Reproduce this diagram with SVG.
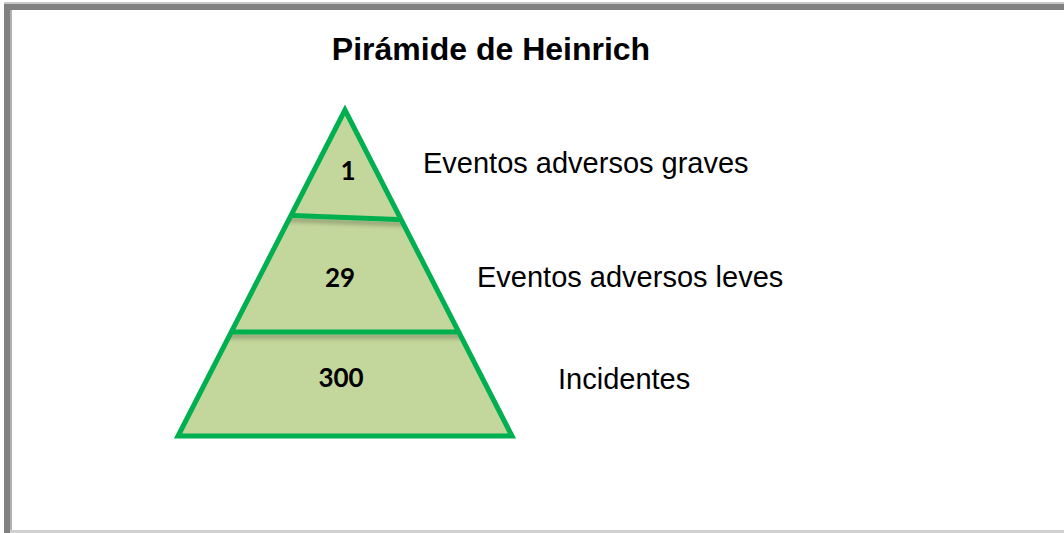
<svg xmlns="http://www.w3.org/2000/svg" width="1064" height="533" viewBox="0 0 1064 533">
  <defs>
    <filter id="sh" filterUnits="userSpaceOnUse" x="150" y="100" width="400" height="350">
      <feGaussianBlur in="SourceAlpha" stdDeviation="2"/>
      <feOffset dx="0" dy="4" result="b"/>
      <feComponentTransfer><feFuncA type="linear" slope="0.25"/></feComponentTransfer>
      <feMerge><feMergeNode/><feMergeNode in="SourceGraphic"/></feMerge>
    </filter>
    <clipPath id="pyr"><polygon points="345,110 178,436 512,436"/></clipPath>
  </defs>
  <style>
    .lbl { font-family: "Liberation Sans", Arial, sans-serif; font-size: 29px; fill: #000; }
    .num { font-family: Lato, "Open Sans", sans-serif; font-weight: bold; font-size: 26px; fill: #000; text-anchor: middle; }
    .div { stroke: #00b050; stroke-width: 5; fill: none; }
  </style>
  <rect x="0" y="0" width="1064" height="533" fill="#ffffff"/>
  <!-- frame -->
  <rect x="4" y="2" width="1060" height="2" fill="#c8c8c8"/>
  <rect x="4" y="4" width="1060" height="6" fill="#808080"/>
  <rect x="4" y="4" width="6" height="529" fill="#808080"/>
  <rect x="10" y="10" width="2" height="523" fill="#b0b0b0"/>
  <rect x="10" y="530" width="1054" height="3" fill="#d0d0d0"/>

  <text x="491" y="60" text-anchor="middle" style="font-family:'Liberation Sans', Arial, sans-serif;font-weight:bold;font-size:32px;fill:#000">Pirámide de Heinrich</text>

  <g id="pyramid">
    <polygon points="345,110 178,436 512,436" fill="#c3d69b"/>
    <g clip-path="url(#pyr)">
      <line class="div" x1="280" y1="215" x2="410" y2="220" filter="url(#sh)"/>
      <line class="div" x1="220" y1="332" x2="470" y2="332" filter="url(#sh)"/>
    </g>
    <polygon points="345,110 178,436 512,436" fill="none" stroke="#00b050" stroke-width="5" stroke-linejoin="miter"/>
  </g>

  <g id="level1">
    <text class="num" x="348" y="180">1</text>
    <text class="lbl" x="423" y="173">Eventos adversos graves</text>
  </g>
  <g id="level2">
    <text class="num" x="340" y="287">29</text>
    <text class="lbl" x="477" y="287">Eventos adversos leves</text>
  </g>
  <g id="level3">
    <text class="num" x="341" y="387">300</text>
    <text class="lbl" x="558" y="389">Incidentes</text>
  </g>
</svg>
